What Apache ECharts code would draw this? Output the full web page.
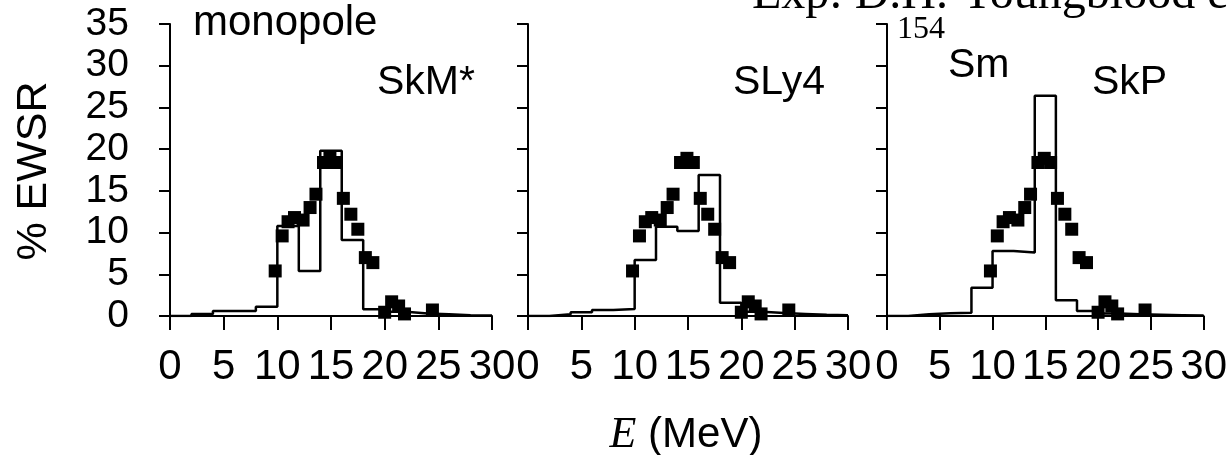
<!DOCTYPE html>
<html><head><meta charset="utf-8">
<script src="https://cdn.jsdelivr.net/npm/echarts@6/dist/echarts.min.js"></script>
<style>html,body{margin:0;padding:0;background:#fff}#c{width:1230px;height:455px}</style>
</head><body><div id="c"></div>
<script>
// Histogram bin edges (MeV) and theoretical strengths per 2-MeV bin (% EWSR)
const binEdges = [0,2,4,6,8,10,12,14,16,18,20,22,24,26,28,30];
const skmStar = [0, 0.24, 0.6, 0.6, 1.1, 10.8, 5.4, 19.8, 9.1, 0.8, 0.5, 0.3, 0.2, 0.1, 0.05];
const sly4    = [0, 0.2, 0.44, 0.72, 0.84, 6.7, 10.7, 10.2, 16.9, 1.6, 0.5, 0.35, 0.25, 0.15, 0.1];
const skp     = [0, 0.2, 0.32, 0.4, 3.4, 7.8, 7.6, 26.4, 1.9, 0.6, 0.3, 0.2, 0.15, 0.1, 0.05];
// Experimental points (Youngblood et al.)
const expE   = [9.8, 10.45, 11.0, 11.6, 12.4, 13.05, 13.6, 14.3, 14.9, 15.5, 16.15, 16.85, 17.5, 18.2, 18.9, 20.0, 20.65, 21.3, 21.85, 24.45];
const expVal = [5.4, 9.6, 11.3, 11.8, 11.5, 13.0, 14.6, 18.4, 18.9, 18.4, 14.1, 12.2, 10.4, 7.0, 6.4, 0.45, 1.7, 1.2, 0.25, 0.72];
const panelNames = ['SkM*', 'SLy4', 'SkP'];
const xMin = 0, xMax = 30, xStep = 5;
const yMin = 0, yMax = 35, yStep = 5;

const SANS = "'Liberation Sans', Arial, sans-serif";
const SERIF = "'Liberation Serif', 'Times New Roman', serif";
const panels = [skmStar, sly4, skp];
const grids = [
  {left: 170, top: 24, width: 322, height: 292},
  {left: 528, top: 24, width: 320, height: 292},
  {left: 887, top: 24, width: 319, height: 292}
];
function stepData(vals) {
  const d = vals.map((v, i) => [binEdges[i], v]);
  d.push([binEdges[binEdges.length - 1], vals[vals.length - 1]]);
  return d;
}
const expData = expE.map((e, i) => [e, expVal[i]]);

const xAxes = [], yAxes = [], series = [];
panels.forEach((vals, i) => {
  xAxes.push({
    gridIndex: i, type: 'value', min: xMin, max: xMax, interval: xStep,
    axisLine: {show: true, lineStyle: {color: '#000', width: 2}},
    axisTick: {show: true, length: 14, lineStyle: {color: '#000', width: 2}},
    axisLabel: {color: '#000', fontSize: 42, fontFamily: SANS, margin: 30, showMinLabel: true, showMaxLabel: true},
    splitLine: {show: false}
  });
  yAxes.push({
    gridIndex: i, type: 'value', min: yMin, max: yMax, interval: yStep,
    axisLine: {show: true, lineStyle: {color: '#000', width: 2}},
    axisTick: {show: true, length: 11, lineStyle: {color: '#000', width: 2}},
    axisLabel: {show: i === 0, color: '#000', fontSize: 39, fontFamily: SANS, margin: 41},
    splitLine: {show: false}
  });
  series.push({
    type: 'line', xAxisIndex: i, yAxisIndex: i, step: 'end', symbol: 'none',
    data: stepData(vals), lineStyle: {color: '#000', width: 2.5}, z: 2
  });
  series.push({
    type: 'scatter', xAxisIndex: i, yAxisIndex: i, symbol: 'rect', symbolSize: 13,
    data: expData, itemStyle: {color: '#000', opacity: 1}, z: 3
  });
});

function label(text, x, y, size, family, extra) {
  return Object.assign({
    type: 'text', x: x, y: y, z: 10,
    style: {text: text, fontSize: size, fontFamily: family, fill: '#000', textAlign: 'left', textVerticalAlign: 'middle'}
  }, extra || {});
}

const chart = echarts.init(document.getElementById('c'), null, {renderer: 'canvas'});
chart.setOption({
  animation: false,
  backgroundColor: '#fff',
  grid: grids,
  xAxis: xAxes,
  yAxis: yAxes,
  series: series,
  graphic: [
    label('monopole', 193, 23, 42, SANS),
    label(panelNames[0], 377, 83, 41, SANS),
    label(panelNames[1], 733, 83, 41, SANS),
    label(panelNames[2], 1092, 83, 41, SANS),
    label('Sm', 948, 66, 41, SANS),
    label('154', 897, 30, 32, SERIF),
    label('Exp: D.H. Youngblood et al.', 752, -5, 48, SERIF),
    {
      type: 'text', x: 686, y: 435, z: 10,
      style: {
        text: '{i|E} (MeV)', fontSize: 42, fontFamily: SANS, fill: '#000',
        textAlign: 'center', textVerticalAlign: 'middle',
        rich: {i: {fontFamily: SERIF, fontStyle: 'italic', fontSize: 44, fill: '#000'}}
      }
    },
    {
      type: 'text', x: 34, y: 171, rotation: Math.PI / 2, z: 10,
      style: {text: '% EWSR', fontSize: 43, fontFamily: SANS, fill: '#000', textAlign: 'center', textVerticalAlign: 'middle'}
    }
  ]
});
</script>
</body></html>
